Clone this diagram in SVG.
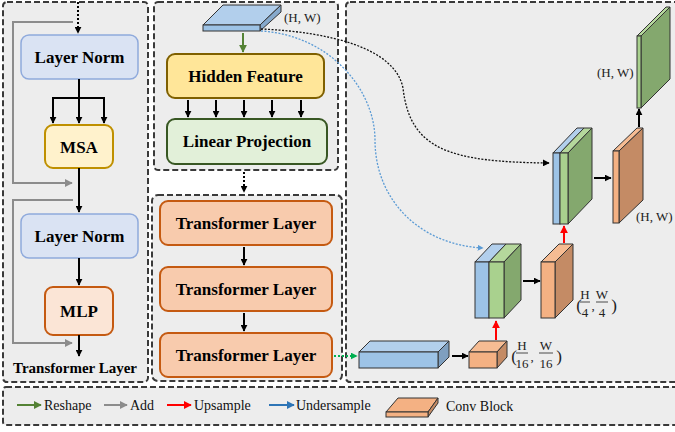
<svg xmlns="http://www.w3.org/2000/svg" width="675" height="432" viewBox="0 0 675 432">
<defs>
<style>
.panel{fill:#ededed;stroke:#3a3a3a;stroke-width:2;stroke-dasharray:6 3}
.t{font-family:"Liberation Serif","Times New Roman",serif;font-weight:bold;text-anchor:middle;fill:#000}
.l{font-family:"Liberation Serif","Times New Roman",serif;fill:#111;font-size:14px}
.m{font-family:"Liberation Serif","Times New Roman",serif;fill:#222;font-size:13px}
.f{font-family:"Liberation Serif","Times New Roman",serif;fill:#222;font-size:13px;text-anchor:middle}
.p{font-family:"Liberation Serif","Times New Roman",serif;fill:#222;font-size:17px;text-anchor:middle}
.fl{stroke:#222;stroke-width:0.8}
.blk{stroke:#000;stroke-width:2;fill:none}
.gry{stroke:#8c8c8c;stroke-width:2;fill:none}
.red{stroke:#ff0000;stroke-width:2;fill:none}
.edge{stroke:#333;stroke-width:1}
</style>
<marker id="ak" viewBox="0 0 10 10" refX="9" refY="5" markerWidth="7" markerHeight="7" markerUnits="userSpaceOnUse" orient="auto"><path d="M0,0 L10,5 L0,10 z" fill="#000"/></marker>
<marker id="ag" viewBox="0 0 10 10" refX="9" refY="5" markerWidth="8" markerHeight="8" markerUnits="userSpaceOnUse" orient="auto"><path d="M0,0 L10,5 L0,10 z" fill="#8c8c8c"/></marker>
<marker id="ar" viewBox="0 0 10 10" refX="9" refY="5" markerWidth="8" markerHeight="8" markerUnits="userSpaceOnUse" orient="auto"><path d="M0,0 L10,5 L0,10 z" fill="#ff0000"/></marker>
<marker id="agr" viewBox="0 0 10 10" refX="9" refY="5" markerWidth="8" markerHeight="8" markerUnits="userSpaceOnUse" orient="auto"><path d="M0,0 L10,5 L0,10 z" fill="#548235"/></marker>
<marker id="agn" viewBox="0 0 10 10" refX="9" refY="5" markerWidth="7" markerHeight="7" markerUnits="userSpaceOnUse" orient="auto"><path d="M0,0 L10,5 L0,10 z" fill="#00b050"/></marker>
<marker id="ab" viewBox="0 0 10 10" refX="9" refY="5" markerWidth="8" markerHeight="8" markerUnits="userSpaceOnUse" orient="auto"><path d="M0,0 L10,5 L0,10 z" fill="#2e75b6"/></marker>
<marker id="abl" viewBox="0 0 10 10" refX="9" refY="5" markerWidth="6" markerHeight="6" markerUnits="userSpaceOnUse" orient="auto"><path d="M0,0 L10,5 L0,10 z" fill="#5b9bd5"/></marker>
</defs>

<g id="panels">
<rect class="panel" x="3" y="2" width="145" height="380" rx="4"/>
<rect class="panel" x="154" y="2" width="184" height="168" rx="4"/>
<rect class="panel" x="152" y="195" width="190" height="186" rx="6"/>
<rect class="panel" x="346" y="2" width="334" height="380" rx="4"/>
<rect class="panel" x="3" y="387" width="677" height="38" rx="3"/>
</g>

<!-- left panel: transformer layer -->
<g id="ln1"><rect x="21" y="35" width="117" height="44" rx="8" fill="#dae3f3" stroke="#8faadc" stroke-width="1.5"/><text class="t" x="79.5" y="63" font-size="17">Layer Norm</text></g>
<g id="msa"><rect x="45" y="125" width="68" height="43" rx="8" fill="#fff2cc" stroke="#bf9000" stroke-width="2"/><text class="t" x="79" y="153" font-size="17">MSA</text></g>
<g id="ln2"><rect x="21" y="214" width="117" height="44" rx="8" fill="#dae3f3" stroke="#8faadc" stroke-width="1.5"/><text class="t" x="79.5" y="242" font-size="17">Layer Norm</text></g>
<g id="mlp"><rect x="45" y="287" width="68" height="48" rx="8" fill="#fbe5d6" stroke="#c55a11" stroke-width="2"/><text class="t" x="79" y="317" font-size="17">MLP</text></g>
<g id="tl-label"><text class="t" x="75" y="373" font-size="15">Transformer Layer</text></g>

<!-- middle panel -->
<g id="input-slab">
<polygon points="203,25 223,5 281,5 260,25" fill="#b2cfec" class="edge"/>
<polygon points="260,25 281,5 281,12 260,31" fill="#86a9cc" class="edge"/>
<rect x="203" y="25" width="57" height="6" fill="#9dc3e6" class="edge"/>
<text class="m" x="284" y="22">(H, W)</text>
</g>
<g id="hidden"><rect x="167" y="54" width="157" height="44" rx="8" fill="#ffe699" stroke="#7f6000" stroke-width="2"/><text class="t" x="245.5" y="82" font-size="17">Hidden Feature</text></g>
<g id="linproj"><rect x="167" y="119" width="160" height="45" rx="8" fill="#e2f0d9" stroke="#385723" stroke-width="2"/><text class="t" x="247" y="147" font-size="17">Linear Projection</text></g>
<g id="tl1"><rect x="160" y="201" width="172" height="44" rx="8" fill="#f8cbad" stroke="#c55a11" stroke-width="2"/><text class="t" x="246" y="229" font-size="17">Transformer Layer</text></g>
<g id="tl2"><rect x="160" y="267" width="172" height="44" rx="8" fill="#f8cbad" stroke="#c55a11" stroke-width="2"/><text class="t" x="246" y="295" font-size="17">Transformer Layer</text></g>
<g id="tl3"><rect x="160" y="333" width="172" height="44" rx="8" fill="#f8cbad" stroke="#c55a11" stroke-width="2"/><text class="t" x="246" y="361" font-size="17">Transformer Layer</text></g>

<!-- right panel: decoder -->
<g id="long-block">
<polygon points="359,352 370,341 449,341 438,352" fill="#b2cfec" class="edge"/>
<polygon points="438,352 449,341 449,357 438,368" fill="#7f9fbf" class="edge"/>
<rect x="359" y="352" width="79" height="16" fill="#9dc3e6" class="edge"/>
</g>
<g id="conv16">
<polygon points="469,352 479,341 507,341 497,352" fill="#f6bc93" class="edge"/>
<polygon points="497,352 507,341 507,357 497,368" fill="#c48b65" class="edge"/>
<rect x="469" y="352" width="28" height="16" fill="#f4b183" class="edge"/>
<text class="p" x="514" y="362">(</text>
<text class="f" x="522" y="350">H</text><line class="fl" x1="516" y1="353" x2="528" y2="353"/><text class="f" x="522" y="368">16</text>
<text class="f" x="532" y="361">,</text>
<text class="f" x="546" y="350">W</text><line class="fl" x1="539" y1="353" x2="553" y2="353"/><text class="f" x="546" y="368">16</text>
<text class="p" x="559" y="362">)</text>
</g>
<g id="concat4">
<polygon points="475,262 492,244 506,244 489,262" fill="#b2cfec" class="edge"/>
<polygon points="489,262 506,244 521,244 504,262" fill="#b5d79c" class="edge"/>
<polygon points="504,262 521,244 521,300 504,318" fill="#84a86e" class="edge"/>
<rect x="475" y="262" width="14" height="56" fill="#9dc3e6" class="edge"/>
<rect x="489" y="262" width="15" height="56" fill="#a9d18e" class="edge"/>
</g>
<g id="conv4">
<polygon points="541,262 559,244 573,244 555,262" fill="#f6bc93" class="edge"/>
<polygon points="555,262 573,244 573,300 555,318" fill="#c48b65" class="edge"/>
<rect x="541" y="262" width="14" height="56" fill="#f4b183" class="edge"/>
<text class="p" x="579" y="311">(</text>
<text class="f" x="585" y="299">H</text><line class="fl" x1="580" y1="302" x2="590" y2="302"/><text class="f" x="585" y="317">4</text>
<text class="f" x="593" y="310">,</text>
<text class="f" x="602" y="299">W</text><line class="fl" x1="596" y1="302" x2="608" y2="302"/><text class="f" x="602" y="317">4</text>
<text class="p" x="614" y="311">)</text>
</g>
<g id="concat1">
<polygon points="553,153 577,128 584,128 560,153" fill="#b2cfec" class="edge"/>
<polygon points="560,153 584,128 592,128 568,153" fill="#b5d79c" class="edge"/>
<polygon points="568,153 592,128 592,199 568,224" fill="#84a86e" class="edge"/>
<rect x="553" y="153" width="7" height="71" fill="#9dc3e6" class="edge"/>
<rect x="560" y="153" width="8" height="71" fill="#a9d18e" class="edge"/>
</g>
<g id="conv1">
<polygon points="613,151 637,128 643,128 619,151" fill="#f6bc93" class="edge"/>
<polygon points="619,151 643,128 643,200 619,223" fill="#c48b65" class="edge"/>
<rect x="613" y="151" width="6" height="72" fill="#f4b183" class="edge"/>
<text class="m" x="636" y="221">(H, W)</text>
</g>
<g id="output">
<polygon points="637,36 666,7 670,7 641,36" fill="#b5d79c" class="edge"/>
<polygon points="641,36 670,7 670,79 641,108" fill="#84a86e" class="edge"/>
<rect x="637" y="36" width="4" height="72" fill="#a9d18e" class="edge"/>
<text class="m" x="597" y="77">(H, W)</text>
</g>

<!-- legend -->
<g id="legend">
<line x1="17" y1="405" x2="41" y2="405" stroke="#548235" stroke-width="2" marker-end="url(#agr)"/>
<text class="l" x="44" y="410">Reshape</text>
<line x1="104" y1="405" x2="127" y2="405" stroke="#8c8c8c" stroke-width="2" marker-end="url(#ag)"/>
<text class="l" x="130" y="410">Add</text>
<line x1="167" y1="405" x2="191" y2="405" stroke="#ff0000" stroke-width="2" marker-end="url(#ar)"/>
<text class="l" x="194" y="410">Upsample</text>
<line x1="269" y1="405" x2="294" y2="405" stroke="#2e75b6" stroke-width="2" marker-end="url(#ab)"/>
<text class="l" x="296" y="410">Undersample</text>
<polygon points="386,412 398,398 438,398 428,412" fill="#f4b183" class="edge"/>
<polygon points="428,412 438,398 438,403 428,417" fill="#c48b65" class="edge"/>
<rect x="386" y="412" width="42" height="5" fill="#f4b183" class="edge"/>
<text class="l" x="446" y="411">Conv Block</text>
</g>

<g id="connectors">
<line x1="78" y1="2" x2="78" y2="33" class="blk" stroke-dasharray="2 2" marker-end="url(#ak)"/>
<path d="M73,22 H13 V183 H72" class="gry" marker-end="url(#ag)"/>
<line x1="79" y1="79" x2="79" y2="98" class="blk"/>
<line x1="52" y1="98" x2="105" y2="98" class="blk"/>
<line x1="53" y1="97" x2="53" y2="123" class="blk" marker-end="url(#ak)"/>
<line x1="79" y1="98" x2="79" y2="123" class="blk" marker-end="url(#ak)"/>
<line x1="104" y1="97" x2="104" y2="123" class="blk" marker-end="url(#ak)"/>
<line x1="79" y1="168" x2="79" y2="212" class="blk" marker-end="url(#ak)"/>
<path d="M73,200 H13 V343 H72" class="gry" marker-end="url(#ag)"/>
<line x1="79" y1="258" x2="79" y2="285" class="blk" marker-end="url(#ak)"/>
<line x1="79" y1="335" x2="79" y2="356" class="blk" marker-end="url(#ak)"/>

<line x1="243" y1="33" x2="243" y2="52" stroke="#548235" stroke-width="2" marker-end="url(#agr)"/>
<line x1="188" y1="100" x2="188" y2="117" class="blk" marker-end="url(#ak)"/>
<line x1="216" y1="100" x2="216" y2="117" class="blk" marker-end="url(#ak)"/>
<line x1="244" y1="100" x2="244" y2="117" class="blk" marker-end="url(#ak)"/>
<line x1="272" y1="100" x2="272" y2="117" class="blk" marker-end="url(#ak)"/>
<line x1="301" y1="100" x2="301" y2="117" class="blk" marker-end="url(#ak)"/>
<line x1="244" y1="172" x2="244" y2="192" class="blk" stroke-dasharray="2 2" marker-end="url(#ak)"/>
<line x1="244" y1="247" x2="244" y2="265" class="blk" marker-end="url(#ak)"/>
<line x1="244" y1="313" x2="244" y2="331" class="blk" marker-end="url(#ak)"/>

<path d="M261,29 C330,32 395,48 403,88 C410,150 450,162 549,163" fill="none" stroke="#111" stroke-width="1.3" stroke-dasharray="2 1.5" marker-end="url(#ak)"/>
<path d="M261,31 C330,35 375,90 375,140 C375,200 420,245 483,248" fill="none" stroke="#5b9bd5" stroke-width="1.3" stroke-dasharray="2 1.5" marker-end="url(#abl)"/>
<line x1="334" y1="356" x2="357" y2="356" stroke="#00b050" stroke-width="2" stroke-dasharray="2 2" marker-end="url(#agn)"/>
<line x1="452" y1="356" x2="468" y2="356" class="blk" marker-end="url(#ak)"/>
<line x1="496" y1="340" x2="496" y2="321" class="red" marker-end="url(#ar)"/>
<line x1="523" y1="281" x2="540" y2="281" class="blk" marker-end="url(#ak)"/>
<line x1="564" y1="243" x2="564" y2="226" class="red" marker-end="url(#ar)"/>
<line x1="594" y1="178" x2="611" y2="178" class="blk" marker-end="url(#ak)"/>
<line x1="639" y1="127" x2="639" y2="109" class="blk" marker-end="url(#ak)"/>
</g>
</svg>
